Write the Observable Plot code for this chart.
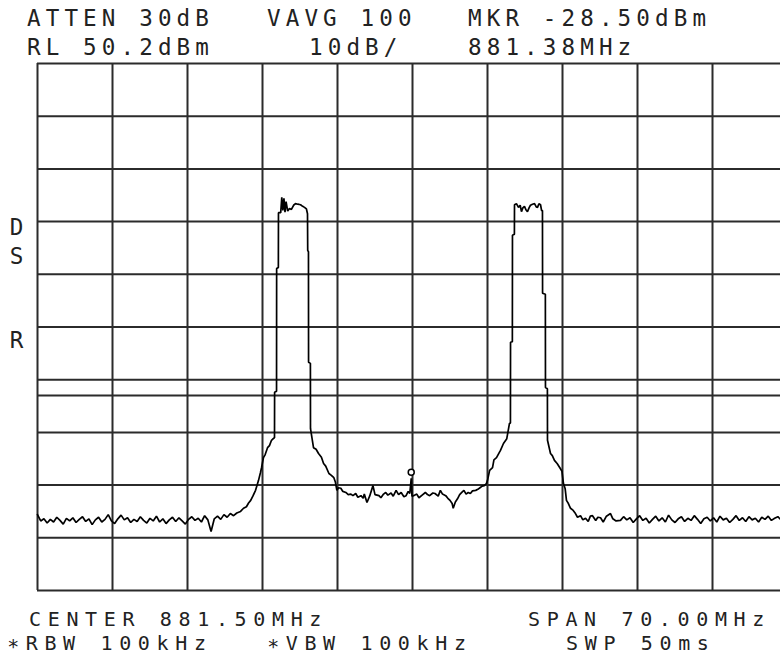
<!DOCTYPE html>
<html>
<head>
<meta charset="utf-8">
<script src="https://cdn.jsdelivr.net/npm/d3@7"></script>
<script src="https://cdn.jsdelivr.net/npm/@observablehq/plot@0.6"></script>
<style>
  html, body { margin: 0; padding: 0; background: #fff; }
  #page { position: relative; width: 780px; height: 659px; overflow: hidden; background: #fff; }
  .t { position: absolute; font-family: "DejaVu Sans Mono", monospace; font-size: 22.6px; line-height: 1;
       letter-spacing: 5.1px; color: #222; white-space: pre; }
  .f { font-size: 20px; letter-spacing: 6.65px; }
  #chart { position: absolute; left: 0; top: 62px; max-width: none !important; width: 790px; height: 530px; }
</style>
</head>
<body>
<div id="page"></div>
<script>
// ---------- DATA ----------
// Sweep settings
const centerMHz = 881.5;
const spanMHz = 70.0;
const refLevel = 50.2;      // dBm
const dbPerDiv = 10;
const displayLine = -12.8;  // dBm

// Grid (10 divisions each way)
const freqTicks = [846.5, 853.5, 860.5, 867.5, 874.5, 881.5, 888.5, 895.5, 902.5, 909.5, 916.5];
const levelTicks = [50.2, 40.2, 30.2, 20.2, 10.2, 0.2, -9.8, -19.8, -29.8, -39.8, -49.8];

// Marker
const marker = [{f: 881.38, dbm: -28.5}];

// Annotations on the left edge
const sideLabels = ["D", "S", "R"];
const sideLabelLevels = [19.1, 13.6, -2.5];

// Header / footer texts
const headerLine1 = ["ATTEN 30dB", "VAVG 100", "MKR -28.50dBm"];
const headerLine2 = ["RL 50.2dBm", "10dB/", "881.38MHz"];
const footerLine1 = ["CENTER 881.50MHz", "SPAN 70.00MHz"];
const footerLine2 = ["\u2217RBW 100kHz", "\u2217VBW 100kHz", "SWP 50ms"];

// Trace: [MHz, dBm]
const noiseLeft = [
  [846.5,-35.4],[846.8,-36.6],[847.1,-36.2],[847.4,-37.0],[847.7,-36.3],[848.0,-36.8],[848.3,-35.9],
  [848.6,-36.5],[848.9,-37.2],[849.2,-36.1],[849.5,-36.6],[849.8,-36.0],[850.1,-36.9],[850.4,-36.3],
  [850.7,-35.8],[851.0,-36.7],[851.3,-36.2],[851.6,-37.3],[851.9,-36.4],[852.2,-35.9],[852.5,-36.8],
  [852.8,-36.3],[853.1,-35.4],[853.4,-36.6],[853.7,-37.1],[854.0,-36.2],[854.3,-35.5],[854.6,-36.4],
  [854.9,-36.0],[855.2,-36.9],[855.5,-36.3],[855.8,-36.7],[856.1,-35.8],[856.4,-36.5],[856.7,-37.0],
  [857.0,-36.1],[857.3,-36.6],[857.6,-35.7],[857.9,-36.8],[858.2,-36.2],[858.5,-37.1],[858.8,-36.4],
  [859.1,-35.9],[859.4,-36.7],[859.7,-36.0],[860.0,-36.6],[860.3,-37.2],[860.6,-36.3],[860.9,-35.8],
  [861.2,-36.5],[861.5,-36.1],[861.8,-36.8],[862.1,-35.6],[862.4,-36.4],[862.7,-38.6],[863.0,-36.2],
  [863.3,-35.7],[863.6,-36.3],[863.9,-35.4],[864.2,-35.9],[864.5,-35.2],[864.8,-35.6],[865.1,-35.1],
  [865.45,-34.8],[865.73,-34.2],[866.0,-33.9],[866.2,-33.2],[866.4,-32.7],[866.6,-31.9],[866.85,-30.8],
  [867.0,-29.8],[867.13,-28.9],[867.3,-27.5],[867.41,-26.5],[867.59,-24.6],[867.75,-24.0],[867.97,-22.7],
  [868.15,-22.3],[868.34,-21.3],[868.5,-21.0],[868.62,-20.8]
];
const carrierA = [
  [868.63,-12.2],[868.81,-12.0],[868.82,11.3],[868.98,11.5],[868.99,21.9],[869.2,21.9],[869.3,24.8],
  [869.4,22.3],[869.5,24.6],[869.6,22.0],[869.7,24.0],[869.85,22.2],[870.02,22.7],[870.2,22.5],
  [870.4,23.3],[870.58,23.6],[870.8,23.5],[871.05,23.4],[871.25,23.1],[871.42,22.9],[871.6,22.6],
  [871.7,21.7],[871.72,14.7],[871.79,14.5],[871.8,-6.5],[871.97,-6.7],[871.98,-19.1],[872.26,-22.7],
  [872.5,-23.0],[872.73,-23.8],[873.0,-24.5],[873.2,-25.7],[873.4,-26.2],[873.7,-27.6],[873.9,-27.9],
  [874.16,-28.4],[874.3,-29.2],[874.44,-30.8]
];
const noiseMid = [
  [874.6,-30.3],[874.81,-30.4],[875.0,-31.0],[875.28,-31.2],[875.5,-31.6],[875.75,-31.5],[875.94,-31.8],
  [876.2,-31.4],[876.4,-32.1],[876.69,-31.8],[876.9,-32.3],[877.0,-31.5],[877.25,-33.1],[877.5,-31.9],
  [877.81,-29.9],[878.0,-31.6],[878.37,-31.8],[878.55,-32.2],[878.8,-31.5],[879.0,-31.2],[879.2,-31.7],
  [879.5,-31.3],[879.7,-31.9],[879.97,-30.8],[880.2,-31.6],[880.44,-31.2],[880.7,-32.0],[880.9,-31.8],
  [881.1,-31.0],[881.25,-31.4],[881.38,-28.5],[881.45,-31.9],[881.6,-31.8],[881.9,-31.5],[882.1,-32.2],
  [882.4,-31.7],[882.7,-31.2],[882.9,-31.6],[883.1,-31.8],[883.4,-31.3],[883.6,-31.4],[883.9,-31.9],
  [884.1,-30.8],[884.3,-31.5],[884.6,-31.8],[884.8,-32.3],[885.0,-32.7],[885.2,-33.3],[885.3,-34.2],
  [885.5,-33.0],[885.7,-32.4],[885.9,-31.6],[886.1,-31.2],[886.3,-30.8],[886.5,-31.5],[886.7,-31.2],
  [886.9,-31.4],[887.1,-30.9],[887.4,-30.8],[887.6,-30.6],[887.8,-30.3],[888.0,-30.0],[888.2,-29.9]
];
const carrierB = [
  [888.4,-29.5],[888.5,-28.9],[888.7,-27.0],[888.97,-26.5],[889.1,-25.0],[889.34,-24.6],[889.71,-23.2],
  [889.99,-21.9],[890.3,-21.0],[890.55,-18.1],[890.64,-18.0],[890.65,-2.7],[890.82,-2.6],[890.83,17.6],
  [891.01,17.8],[891.02,23.4],[891.2,23.6],[891.39,22.9],[891.55,23.3],[891.67,22.1],[891.8,22.8],
  [891.95,23.1],[892.1,22.4],[892.23,22.1],[892.4,22.9],[892.51,23.3],[892.7,23.5],[892.89,23.6],
  [893.05,23.0],[893.17,22.9],[893.3,23.6],[893.45,23.4],[893.55,22.3],[893.63,22.3],[893.64,6.6],
  [893.9,6.4],[893.91,-11.3],[894.09,-11.5],[894.1,-21.3],[894.38,-23.8],[894.55,-24.2],[894.75,-25.1],
  [895.0,-25.7],[895.31,-26.7],[895.45,-27.2],[895.59,-29.5],[895.75,-30.5],[895.87,-32.7],[896.05,-33.3],
  [896.25,-34.2],[896.5,-34.6],[896.71,-35.2]
];
const noiseRight = [
  [896.9,-35.9],[897.18,-35.6],[897.4,-36.4],[897.65,-36.1],[897.9,-36.7],[898.1,-35.7],[898.3,-35.6],
  [898.6,-36.5],[898.8,-35.9],[899.05,-36.0],[899.3,-36.8],[899.6,-35.7],[899.98,-35.2],[900.2,-36.2],
  [900.5,-36.6],[900.91,-36.5],[901.2,-35.8],[901.5,-36.4],[901.8,-36.0],[902.1,-36.9],[902.4,-36.2],
  [902.7,-35.6],[903.0,-36.5],[903.3,-36.1],[903.6,-37.0],[903.9,-36.3],[904.2,-35.7],[904.5,-36.6],
  [904.8,-36.0],[905.1,-36.8],[905.4,-35.5],[905.7,-36.4],[906.0,-36.9],[906.3,-36.2],[906.6,-35.8],
  [906.9,-36.7],[907.2,-36.1],[907.5,-36.5],[907.8,-35.6],[908.1,-36.3],[908.4,-37.1],[908.7,-36.2],
  [909.0,-35.9],[909.3,-36.6],[909.6,-36.0],[909.9,-36.8],[910.2,-35.7],[910.5,-36.4],[910.8,-36.1],
  [911.1,-36.9],[911.4,-36.3],[911.7,-35.6],[912.0,-36.5],[912.3,-36.0],[912.6,-36.7],[912.9,-35.8],
  [913.2,-36.4],[913.5,-36.1],[913.8,-36.8],[914.1,-35.9],[914.4,-36.3],[914.7,-35.7],[915.0,-36.5],
  [915.3,-36.1],[915.6,-35.8],[915.9,-36.4],[916.2,-36.0],[916.5,-36.3]
];

// ---------- BUILD ----------
const trace = [...noiseLeft, ...carrierA, ...noiseMid, ...carrierB, ...noiseRight]
  .map(([f, dbm]) => ({f, dbm}));
const fStart = centerMHz - spanMHz / 2, fStop = centerMHz + spanMHz / 2;
const yBottom = refLevel - 10 * dbPerDiv;
const sideData = sideLabels.map((s, i) => ({s, dbm: sideLabelLevels[i]}));

const page = document.getElementById("page");

function addText(str, cls) {
  const d = document.createElement("div");
  d.className = "t " + cls;
  d.textContent = str;
  page.appendChild(d);
}
const headerCls1 = ["h1a", "h1b", "h1c"], headerCls2 = ["h2a", "h2b", "h2c"];
const footerCls1 = ["f f1a", "f f1b"], footerCls2 = ["f f2a", "f f2b", "f f2c"];
headerLine1.forEach((s, i) => addText(s, headerCls1[i]));
headerLine2.forEach((s, i) => addText(s, headerCls2[i]));

const chart = Plot.plot({
  width: 790,
  height: 530,
  marginTop: 1,
  marginBottom: 2,
  marginLeft: 37,
  marginRight: 3,
  x: {domain: [fStart, fStop], axis: null},
  y: {domain: [yBottom, refLevel], axis: null},
  style: {background: "transparent", maxWidth: "none"},
  marks: [
    Plot.ruleX(freqTicks, {stroke: "#2b2b2b", strokeWidth: 2}),
    Plot.ruleY(levelTicks, {stroke: "#2b2b2b", strokeWidth: 2}),
    Plot.ruleY([displayLine], {stroke: "#2b2b2b", strokeWidth: 2}),
    Plot.line(trace, {x: "f", y: "dbm", stroke: "#000", strokeWidth: 1.7, strokeLinejoin: "miter"}),
    Plot.dot(marker, {x: "f", y: "dbm", r: 3, stroke: "#000", strokeWidth: 1.5, fill: "#fff", dy: -6}),
    Plot.text(sideData, {x: () => fStart, y: "dbm", text: "s", dx: -21, fontSize: 22.6,
      fontFamily: "DejaVu Sans Mono", fill: "#222", textAnchor: "middle"})
  ]
});
chart.id = "chart";
page.appendChild(chart);

footerLine1.forEach((s, i) => addText(s, footerCls1[i]));
footerLine2.forEach((s, i) => addText(s, footerCls2[i]));
</script>
<style>
  .h1a { left: 27px; top: 7px; }  .h1b { left: 267px; top: 7px; }  .h1c { left: 468px; top: 7px; }
  .h2a { left: 27px; top: 36px; } .h2b { left: 309px; top: 36px; } .h2c { left: 468px; top: 36px; }
  .f1a { left: 29px; top: 609px; } .f1b { left: 528px; top: 609px; }
  .f2a { left: 7px; top: 632.5px; }  .f2b { left: 267px; top: 632.5px; } .f2c { left: 566px; top: 632.5px; }
</style>
</body>
</html>
